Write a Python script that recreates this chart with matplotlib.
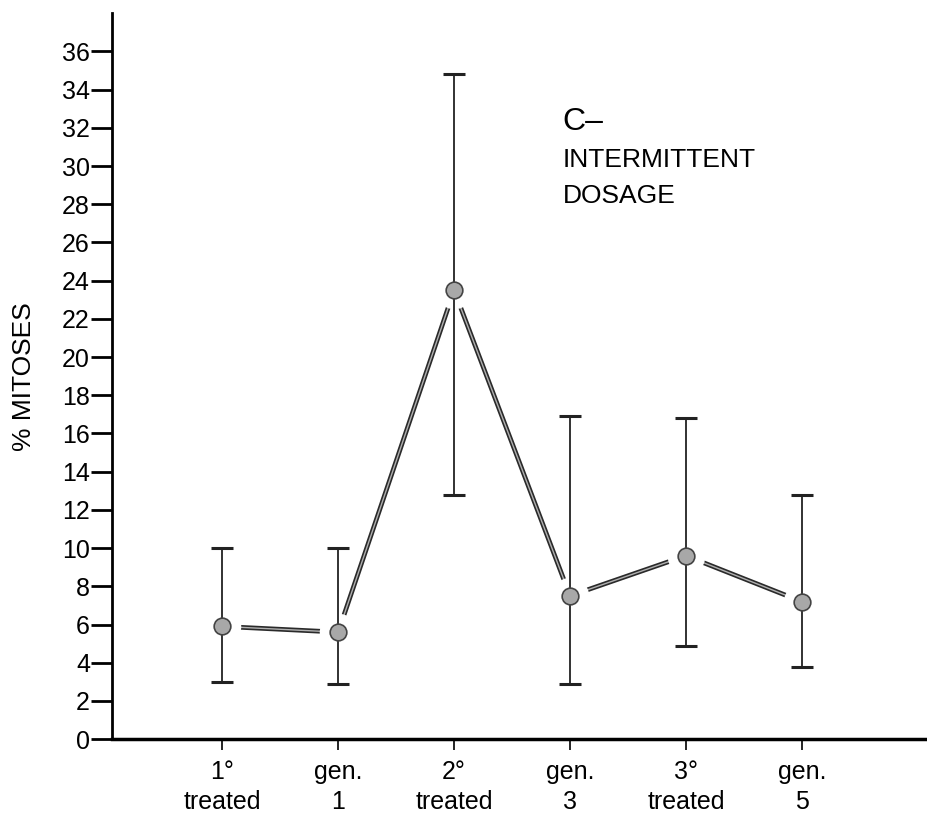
import matplotlib.pyplot as plt

plt.rcParams['font.family'] = ['Liberation Sans', 'DejaVu Sans']

groups = ["1°\ntreated", "gen.\n1", "2°\ntreated", "gen.\n3", "3°\ntreated", "gen.\n5"]
mitoses = [5.9, 5.6, 23.5, 7.5, 9.6, 7.2]
upper = [10.0, 10.0, 34.8, 16.9, 16.8, 12.8]
lower = [3.0, 2.9, 12.8, 2.9, 4.9, 3.8]
y_ticks = list(range(0, 37, 2))

x = list(range(len(groups)))
err_low = [m - l for m, l in zip(mitoses, lower)]
err_high = [u - m for u, m in zip(upper, mitoses)]

fig = plt.figure(figsize=(9.27, 8.24), dpi=100)
ax = fig.add_axes([0.121, 0.103, 0.879, 0.881])

# connecting line (outlined look), white halo round each point leaves a gap
ax.plot(x, mitoses, color='#2a2a2a', lw=3.4, solid_capstyle='round', zorder=1)
ax.plot(x, mitoses, color='#b0b0b0', lw=1.0, solid_capstyle='round', zorder=1.5)
ax.plot(x, mitoses, 'o', ms=26, color='white', zorder=2)
ax.errorbar(x, mitoses, yerr=[err_low, err_high], fmt='none', ecolor='#222222',
            elinewidth=1.3, capsize=8, capthick=2.2, zorder=3)
ax.plot(x, mitoses, 'o', ms=12, mfc='#a8a8a8', mec='#444444', mew=1.2, zorder=4)

ax.set_xlim(-0.95, 6.08)
ax.set_ylim(0, 38)
ax.set_yticks(y_ticks)
ax.set_xticks(x)
ax.set_xticklabels(groups, fontsize=18, linespacing=1.3)
ax.tick_params(axis='y', direction='out', length=15, width=2, labelsize=18, pad=1)
ax.tick_params(axis='x', direction='out', length=8, width=1.2, pad=7)

for s in ['top', 'right']:
    ax.spines[s].set_visible(False)
ax.spines['left'].set_linewidth(2)
ax.spines['bottom'].set_linewidth(2.5)

ax.set_ylabel('% MITOSES', fontsize=19, labelpad=19)

fig.text(0.607, 0.852, 'C–', fontsize=23, va='center')
fig.text(0.607, 0.784, 'INTERMITTENT\nDOSAGE', fontsize=19,
         va='center', linespacing=1.65)

fig.savefig('out.png', dpi=100)
